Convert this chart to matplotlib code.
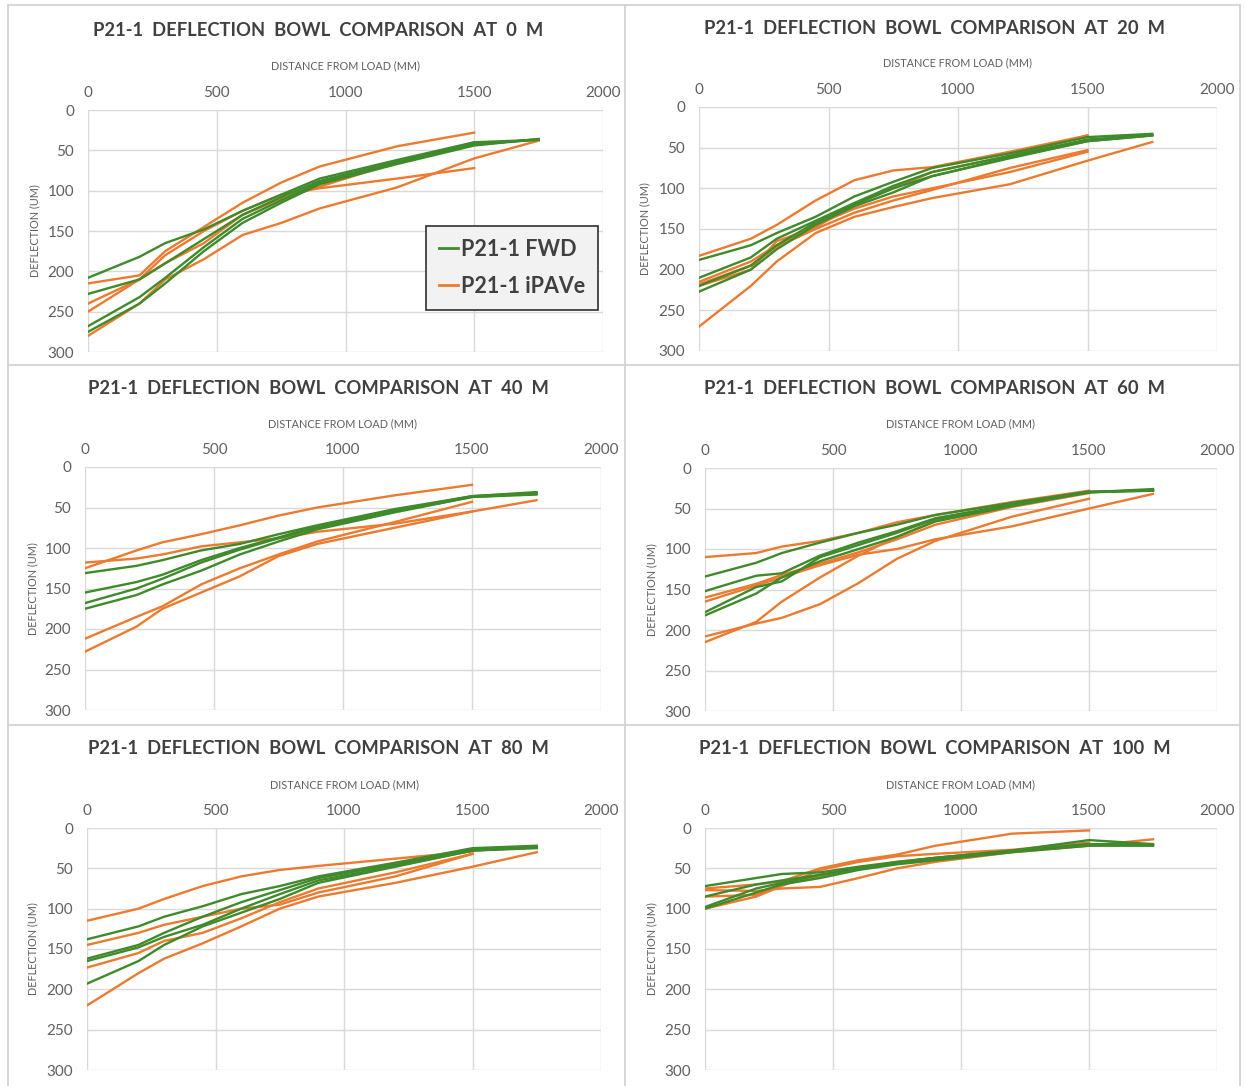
import matplotlib
matplotlib.use("Agg")
import matplotlib.pyplot as plt
from matplotlib.lines import Line2D

# ---------------- data ----------------
sensor_x = [0, 200, 300, 450, 600, 750, 900, 1200, 1500, 1750]

chainages = ["0", "20", "40", "60", "80", "100"]

fwd_0m = [
    [208, 182, 165, 148, 125, 105, 85, 62, 40, 37],
    [228, 210, 190, 160, 130, 108, 88, 64, 42, 37],
    [268, 232, 208, 170, 135, 112, 90, 66, 43, 36],
    [275, 240, 215, 175, 140, 115, 92, 67, 44, 36],
]
ipave_0m = [
    [215, 205, 175, 145, 115, 90, 70, 45, 28],
    [240, 210, 180, 150, 125, 105, 97, 85, 72],
    [250, 210, 190, 165, 130, 110, 95, 65, 40],
    [280, 240, 210, 185, 155, 140, 122, 96, 60, 38],
]

fwd_20m = [
    [188, 170, 155, 135, 110, 92, 75, 57, 37, 33],
    [210, 185, 162, 140, 118, 97, 80, 60, 40, 34],
    [220, 195, 170, 142, 120, 100, 85, 62, 42, 35],
    [227, 200, 175, 145, 122, 105, 85, 63, 42, 35],
]
ipave_20m = [
    [183, 162, 145, 115, 90, 78, 74, 55, 35],
    [215, 190, 170, 145, 125, 110, 100, 80, 55],
    [220, 200, 165, 148, 120, 100, 80, 60, 35],
    [218, 195, 172, 150, 130, 115, 102, 75, 53],
    [270, 220, 190, 155, 135, 123, 112, 95, 66, 43],
]

fwd_40m = [
    [131, 122, 115, 103, 95, 83, 72, 52, 36, 31],
    [155, 142, 133, 115, 100, 87, 73, 54, 36, 32],
    [168, 150, 138, 118, 102, 88, 75, 55, 37, 33],
    [175, 158, 145, 128, 108, 92, 77, 56, 37, 34],
]
ipave_40m = [
    [125, 103, 93, 83, 72, 60, 50, 35, 22],
    [118, 113, 108, 98, 93, 88, 80, 70, 55],
    [212, 185, 172, 145, 125, 108, 92, 68, 43],
    [228, 197, 175, 155, 135, 110, 95, 75, 55, 41],
]

fwd_60m = [
    [134, 117, 105, 92, 80, 70, 58, 43, 29, 28],
    [152, 133, 130, 108, 92, 78, 62, 45, 30, 27],
    [178, 147, 140, 110, 95, 80, 63, 46, 30, 26],
    [182, 155, 135, 115, 100, 85, 66, 47, 30, 28],
]
ipave_60m = [
    [110, 105, 97, 90, 80, 67, 58, 42, 28],
    [165, 145, 135, 120, 107, 100, 88, 72, 50, 32],
    [208, 192, 185, 168, 142, 112, 90, 60, 38],
    [215, 190, 165, 135, 108, 85, 65, 45, 30],
    [160, 143, 132, 118, 104, 88, 70, 48, 31],
]

fwd_80m = [
    [138, 122, 110, 97, 82, 72, 60, 43, 25, 22],
    [162, 145, 130, 110, 92, 77, 62, 45, 27, 23],
    [165, 148, 135, 120, 100, 82, 65, 47, 28, 24],
    [193, 165, 145, 122, 105, 88, 68, 48, 28, 25],
]
ipave_80m = [
    [115, 100, 88, 72, 60, 52, 47, 38, 29],
    [145, 130, 120, 110, 100, 95, 80, 60, 32],
    [173, 155, 140, 130, 112, 92, 75, 55, 32],
    [220, 180, 162, 143, 122, 100, 85, 68, 48, 30],
]

fwd_100m = [
    [72, 62, 57, 55, 48, 42, 37, 28, 15, 20],
    [85, 70, 65, 58, 50, 44, 38, 29, 20, 21],
    [100, 80, 70, 62, 52, 45, 40, 30, 22, 22],
    [98, 75, 68, 58, 50, 43, 37, 28, 20, 20],
]
ipave_100m = [
    [75, 70, 66, 50, 40, 33, 22, 7, 3],
    [77, 78, 75, 73, 62, 50, 42, 30, 22, 14],
    [100, 85, 72, 52, 42, 35, 32, 27, 18],
    [85, 83, 70, 60, 50, 42, 37, 28, 20],
]

panels = [
    (fwd_0m, ipave_0m), (fwd_20m, ipave_20m),
    (fwd_40m, ipave_40m), (fwd_60m, ipave_60m),
    (fwd_80m, ipave_80m), (fwd_100m, ipave_100m),
]

x_ticks = [0, 500, 1000, 1500, 2000]
y_ticks = [0, 50, 100, 150, 200, 250, 300]

# ---------------- styling ----------------
W, H = 1245, 1086
GREEN = "#3f8a2a"
ORANGE = "#ec7a2f"
GRID = "#d9d9d9"
TXT = "#606060"
FONT = "Lato"

plt.rcParams["font.family"] = [FONT, "DejaVu Sans"]

fig = plt.figure(figsize=(W / 100, H / 100), dpi=100)
fig.patch.set_facecolor("white")

# axes pixel boxes (left, right, top, bottom)
boxes = [
    (88, 603, 110, 352),
    (699, 1217, 107, 351),
    (85, 601, 467, 710),
    (705, 1217, 468, 711),
    (87, 601, 828, 1070),
    (705, 1217, 828, 1070),
]
title_y = [30, 28, 388, 388, 748, 748]
title_x = [318, 935, 318, 935, 318, 935]
xlabel_y = [66, 63, 424, 424, 785, 785]
ylabel_x = [35, 645, 33, 652, 33, 652]


def fx(px):
    return px / W


def fy(py):
    return 1 - py / H


# panel dividers
for xx in [8, 625, 1240]:
    fig.add_artist(Line2D([fx(xx), fx(xx)], [fy(5), fy(1086)], color="#d0d0d0", lw=1.2))
for yy in [5, 365, 725]:
    fig.add_artist(Line2D([fx(8), fx(1240)], [fy(yy), fy(yy)], color="#d0d0d0", lw=1.2))

for i, ((fwd, ipave), (l, r, t, b)) in enumerate(zip(panels, boxes)):
    ax = fig.add_axes([fx(l), fy(b), fx(r - l), (b - t) / H])
    for ys in ipave:
        ax.plot(sensor_x[:len(ys)], ys, color=ORANGE, lw=1.7, zorder=3)
    for ys in fwd:
        ax.plot(sensor_x[:len(ys)], ys, color=GREEN, lw=1.7, zorder=3)
    ax.set_xlim(0, 2000)
    ax.set_ylim(300, 0)
    ax.set_xticks(x_ticks)
    ax.set_yticks(y_ticks)
    ax.xaxis.tick_top()
    ax.tick_params(axis="both", length=0, labelsize=11, labelcolor=TXT)
    ax.tick_params(axis="x", pad=7)
    ax.tick_params(axis="y", pad=10)
    ax.grid(True, color=GRID, lw=1.0, zorder=0)
    for s in ax.spines.values():
        s.set_visible(False)
    ax.set_facecolor("white")

    fig.text(fx(title_x[i]), fy(title_y[i]),
             "P21-1  DEFLECTION  BOWL  COMPARISON  AT  %s  M" % chainages[i],
             ha="center", va="center", fontsize=13.2, fontweight="bold",
             color="#404040")
    fig.text(fx((l + r) / 2), fy(xlabel_y[i]), "DISTANCE FROM LOAD (MM)",
             ha="center", va="center", fontsize=7.8, color=TXT)
    fig.text(fx(ylabel_x[i]), fy((t + b) / 2), "DEFLECTION (UM)",
             ha="center", va="center", fontsize=7.8, color=TXT, rotation=90)

    if i == 0:
        handles = [Line2D([], [], color=GREEN, lw=2), Line2D([], [], color=ORANGE, lw=2)]
        leg = ax.legend(handles, ["P21-1 FWD", "P21-1 iPAVe"],
                        loc="lower right", bbox_to_anchor=(1.012, 0.13),
                        frameon=True, fancybox=False,
                        handlelength=0.9, handletextpad=0.15,
                        borderpad=0.6, labelspacing=0.75,
                        prop={"family": FONT, "weight": "bold", "size": 15.5})
        leg.get_frame().set_facecolor("#f2f2f2")
        leg.get_frame().set_edgecolor("#303030")
        leg.get_frame().set_linewidth(1.2)
        leg.get_frame().set_alpha(1)
        for txt in leg.get_texts():
            txt.set_color("#404040")

fig.savefig("out.png", dpi=100)
